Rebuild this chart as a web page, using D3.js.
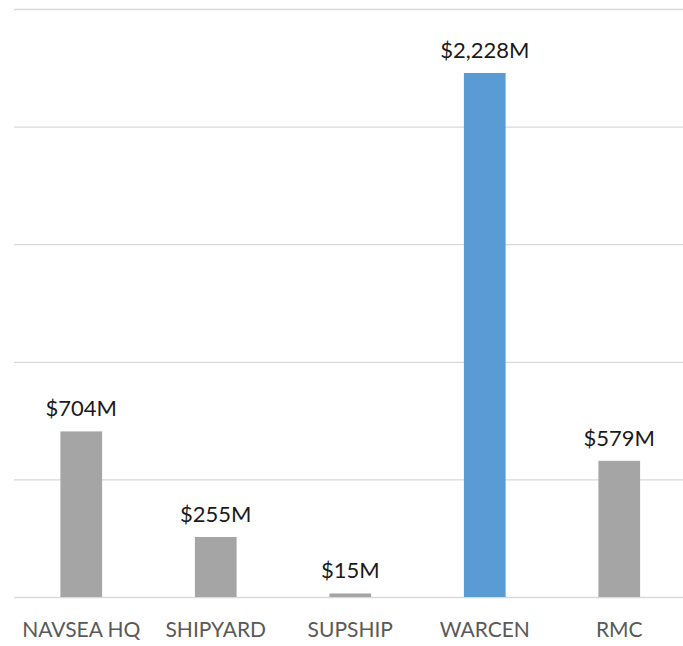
<!DOCTYPE html>
<html>
<head>
<meta charset="utf-8">
<script src="https://cdn.jsdelivr.net/npm/d3@7"></script>
<style>
  body { margin: 0; background: #fff; }
  text { font-family: Lato, "Open Sans", sans-serif; }
</style>
</head>
<body>
<div id="chart"></div>
<script>
// chart data
const categories = ["NAVSEA HQ", "SHIPYARD", "SUPSHIP", "WARCEN", "RMC"];
const values = [704, 255, 15, 2228, 579];
const labels = ["$704M", "$255M", "$15M", "$2,228M", "$579M"];
const yTicks = [0, 500, 1000, 1500, 2000, 2500];

const W = 683, H = 646;
const margin = { left: 14, right: 686.5, top: 9, bottom: 597 };

const svg = d3.select("#chart")
  .append("svg")
  .attr("width", W)
  .attr("height", H);

// x scale
const x = d3.scaleBand()
  .domain(categories)
  .range([margin.left, margin.right])
  .paddingInner(0.69)
  .paddingOuter(0.345);

// y scale
const y = d3.scaleLinear()
  .domain([0, 2500])
  .range([margin.bottom, margin.top]);

// gridlines
svg.append("g")
  .attr("class", "grid")
  .attr("transform", `translate(${margin.left}, 0)`)
  .call(d3.axisLeft(y)
    .tickValues(yTicks)
    .tickSize(-(W - margin.left))
    .tickFormat(""))
  .call(g => g.select(".domain").remove());

svg.selectAll(".grid line")
  .style("stroke", "#d9d9d9")
  .style("stroke-width", 1.3);

const data = categories.map((c, i) => ({ cat: c, value: values[i], label: labels[i] }));

// bars
svg.selectAll(".bar")
  .data(data)
  .join("rect")
    .attr("class", "bar")
    .attr("x", d => x(d.cat))
    .attr("y", d => y(d.value))
    .attr("width", x.bandwidth())
    .attr("height", d => y(0) - y(d.value))
    .style("fill", d => d.cat === "WARCEN" ? "#5b9bd5" : "#a5a5a5");

// value labels
svg.selectAll(".val")
  .data(data)
  .join("text")
    .attr("class", "val")
    .attr("x", d => x(d.cat) + x.bandwidth() / 2)
    .attr("y", d => y(d.value) - 15)
    .attr("text-anchor", "middle")
    .style("font-size", "22px")
    .style("fill", "#1a1a1a")
    .text(d => d.label);

// category axis labels
svg.append("g")
  .attr("transform", `translate(0, ${margin.bottom})`)
  .call(d3.axisBottom(x).tickSize(0).tickPadding(0))
  .call(g => g.select(".domain").remove())
  .selectAll("text")
    .attr("y", 40)
    .attr("dy", null)
    .style("font-family", "Lato, 'Open Sans', sans-serif")
    .style("font-size", "21px")
    .style("fill", "#595959");
</script>
</body>
</html>
